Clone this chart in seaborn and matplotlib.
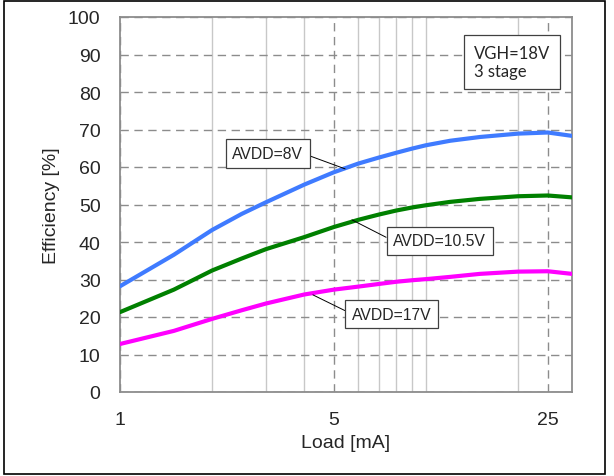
import matplotlib
matplotlib.use('Agg')
import matplotlib.pyplot as plt
import matplotlib.ticker as mticker
from matplotlib.patches import Rectangle
import seaborn as sns
import pandas as pd

# Data
load_ma = [1, 1.5, 2, 2.5, 3, 4, 5, 6, 7, 8, 9, 10, 12, 15, 20, 25, 30]
eff_8v = [28.2, 36.6, 43.2, 47.5, 50.6, 55.3, 58.6, 60.9, 62.5, 63.8, 64.9, 65.8, 67.0, 68.0, 68.9, 69.2, 68.3]
eff_10v5 = [21.3, 27.3, 32.4, 35.6, 38.1, 41.3, 44.0, 45.9, 47.3, 48.4, 49.2, 49.8, 50.7, 51.5, 52.2, 52.4, 51.9]
eff_17v = [12.8, 16.3, 19.5, 21.8, 23.6, 26.0, 27.3, 28.1, 28.8, 29.4, 29.8, 30.1, 30.7, 31.5, 32.1, 32.2, 31.5]
series_names = ['AVDD=8V', 'AVDD=10.5V', 'AVDD=17V']
x_ticks = [1, 5, 25]
y_ticks = list(range(0, 101, 10))

df = pd.DataFrame({
    'Load': load_ma * 3,
    'Efficiency': eff_8v + eff_10v5 + eff_17v,
    'Series': [s for s in series_names for _ in load_ma],
})

sns.set_style('white')
plt.rcParams['font.family'] = ['Liberation Sans', 'DejaVu Sans']

fig = plt.figure(figsize=(6.14, 4.77), dpi=100)
ax = fig.add_axes([120 / 614, 84 / 477, 452 / 614, 375 / 477])

palette = {'AVDD=8V': '#3f7bff', 'AVDD=10.5V': '#008000', 'AVDD=17V': '#ff00ff'}
sns.lineplot(data=df, x='Load', y='Efficiency', hue='Series', palette=palette,
             linewidth=3.0, legend=False, ax=ax, zorder=3)

ax.set_xscale('log')
ax.set_xlim(1, 30)
ax.set_ylim(0, 100)
ax.xaxis.set_major_locator(mticker.FixedLocator(x_ticks))
ax.xaxis.set_major_formatter(mticker.FixedFormatter([str(t) for t in x_ticks]))
ax.xaxis.set_minor_locator(mticker.FixedLocator([2, 3, 4, 6, 7, 8, 9, 10, 20]))
ax.xaxis.set_minor_formatter(mticker.NullFormatter())
ax.set_yticks(y_ticks)

ax.grid(which='major', axis='both', color='#8c8c8c', linestyle=(0, (6, 4)), linewidth=1.0)
ax.grid(which='minor', axis='x', color='#c8c8c8', linestyle='-', linewidth=1.0)
ax.tick_params(which='both', length=0, pad=14, labelsize=14)
for sp in ax.spines.values():
    sp.set_color('#8c8c8c')
    sp.set_linewidth(1.3)

ax.set_xlabel('Load [mA]', fontsize=14, labelpad=4)
ax.set_ylabel('Efficiency [%]', fontsize=14, labelpad=6)

box = dict(boxstyle='square,pad=0.42', facecolor='white', edgecolor='#404040', linewidth=0.9)
line = dict(arrowstyle='-', color='black', lw=0.7, shrinkA=0, shrinkB=0)
ax.annotate('AVDD=8V', xy=(5.44, 59.5), xytext=(0.327, 0.636), textcoords='axes fraction',
            ha='center', va='center', fontsize=11.3, bbox=box, zorder=5,
            arrowprops=dict(line, relpos=(1, 0.5)))
ax.annotate('AVDD=10.5V', xy=(5.73, 45.9), xytext=(0.707, 0.403), textcoords='axes fraction',
            ha='center', va='center', fontsize=11.3, bbox=box, zorder=5,
            arrowprops=dict(line, relpos=(0, 0.5)))
ax.annotate('AVDD=17V', xy=(4.27, 25.9), xytext=(0.601, 0.208), textcoords='axes fraction',
            ha='center', va='center', fontsize=11.3, bbox=box, zorder=5,
            arrowprops=dict(line, relpos=(0, 0.5)))

ax.text(0.783, 0.88, 'VGH=18V\n3 stage', transform=ax.transAxes, ha='left', va='center',
        fontsize=12, family=['Lato', 'DejaVu Sans'], linespacing=1.2, zorder=5,
        bbox=dict(boxstyle='square,pad=0.6', facecolor='white', edgecolor='#404040', linewidth=0.9))

fig.patches.append(Rectangle((4 / 614, 2 / 477), 601 / 614, 473 / 477, transform=fig.transFigure,
                             fill=False, edgecolor='black', linewidth=1.2))

fig.savefig('out.png', dpi=100)
